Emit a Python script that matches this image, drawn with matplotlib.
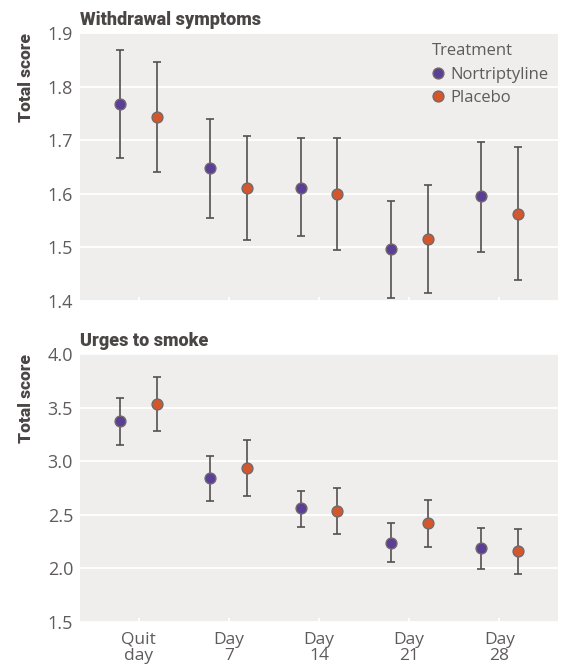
import matplotlib
matplotlib.use("Agg")
import matplotlib.pyplot as plt
import numpy as np

categories = ["Quit\nday", "Day\n7", "Day\n14", "Day\n21", "Day\n28"]
treatments = ["Nortriptyline", "Placebo"]

# Withdrawal symptoms
ws_nort = [1.767, 1.648, 1.611, 1.497, 1.596]
ws_nort_lo = [1.666, 1.554, 1.521, 1.406, 1.491]
ws_nort_hi = [1.868, 1.740, 1.704, 1.586, 1.696]
ws_plac = [1.743, 1.610, 1.600, 1.516, 1.562]
ws_plac_lo = [1.641, 1.514, 1.496, 1.414, 1.439]
ws_plac_hi = [1.845, 1.707, 1.704, 1.616, 1.687]

# Urges to smoke
us_nort = [3.372, 2.840, 2.561, 2.240, 2.188]
us_nort_lo = [3.154, 2.626, 2.389, 2.060, 1.997]
us_nort_hi = [3.587, 3.051, 2.725, 2.421, 2.380]
us_plac = [3.534, 2.937, 2.535, 2.421, 2.162]
us_plac_lo = [3.279, 2.678, 2.321, 2.200, 1.945]
us_plac_hi = [3.783, 3.198, 2.750, 2.635, 2.370]

colors = {"Nortriptyline": "#5B3E96", "Placebo": "#D6562C"}
txt = "#5f5b5b"
head = "#4a4646"
panel_bg = "#EFEEED"

plt.rcParams['font.family'] = ['Open Sans', 'DejaVu Sans']

fig = plt.figure(figsize=(5.65, 6.65), dpi=100)
ax1 = fig.add_axes([80/565, 1-301/665, 478/565, 268/665])
ax2 = fig.add_axes([80/565, 1-622/665, 478/565, 268/665])

def draw(ax, series, ylim, yticks, title, legend=False):
    ax.set_facecolor(panel_bg)
    for s in ax.spines.values():
        s.set_visible(False)
    ax.set_axisbelow(True)
    ax.yaxis.grid(True, color="white", lw=1.3)
    x = np.arange(len(categories))
    offs = [-0.205, 0.205]
    for (name, m, lo, hi), off in zip(series, offs):
        m = np.array(m); lo = np.array(lo); hi = np.array(hi)
        ax.errorbar(x + off, m, yerr=[m - lo, hi - m], fmt='none',
                    ecolor="#555050", elinewidth=1.2, capsize=2.6, capthick=1.2, zorder=2)
        ax.plot(x + off, m, 'o', ms=7.8, mfc=colors[name], mec="#6f6a6a", mew=1.0,
                zorder=3, label=name, ls='none')
    ax.set_xlim(-0.65, 4.65)
    ax.set_ylim(*ylim)
    ax.set_yticks(yticks)
    ax.set_xticks(x)
    ax.tick_params(axis='y', length=0, pad=5, labelsize=13, labelcolor=txt)
    ax.tick_params(axis='x', direction='in', length=3, width=1.3, color="white",
                   labelsize=12.5, labelcolor=txt, pad=7)
    ax.set_ylabel("Total score", fontsize=12.5, fontweight='heavy', color=head,
                  family=['Roboto', 'DejaVu Sans'], loc='top')
    ax.yaxis.set_label_coords(-46/478, 1.0)
    ax.text(0, 1.016, title, transform=ax.transAxes, fontsize=13, fontweight='heavy',
            family=['Roboto', 'DejaVu Sans'], color=head, ha='left', va='bottom')
    if legend:
        leg = ax.legend(title="Treatment", loc='upper right', frameon=False,
                        fontsize=12, title_fontsize=12, handletextpad=0.35,
                        borderaxespad=0.2, labelspacing=0.45, markerscale=1.0,
                        handlelength=0.7, bbox_to_anchor=(1.0, 1.0))
        leg._legend_box.align = "left"
        for t in leg.get_texts():
            t.set_color(txt)
        leg.get_title().set_color(txt)

draw(ax1, [("Nortriptyline", ws_nort, ws_nort_lo, ws_nort_hi),
           ("Placebo", ws_plac, ws_plac_lo, ws_plac_hi)],
     (1.4, 1.9), [1.4, 1.5, 1.6, 1.7, 1.8, 1.9], "Withdrawal symptoms", legend=True)
ax1.set_xticklabels([])
draw(ax2, [("Nortriptyline", us_nort, us_nort_lo, us_nort_hi),
           ("Placebo", us_plac, us_plac_lo, us_plac_hi)],
     (1.5, 4.0), [1.5, 2.0, 2.5, 3.0, 3.5, 4.0], "Urges to smoke")
ax2.set_xticklabels(categories, linespacing=1.0)

fig.savefig("out.png", dpi=100)
